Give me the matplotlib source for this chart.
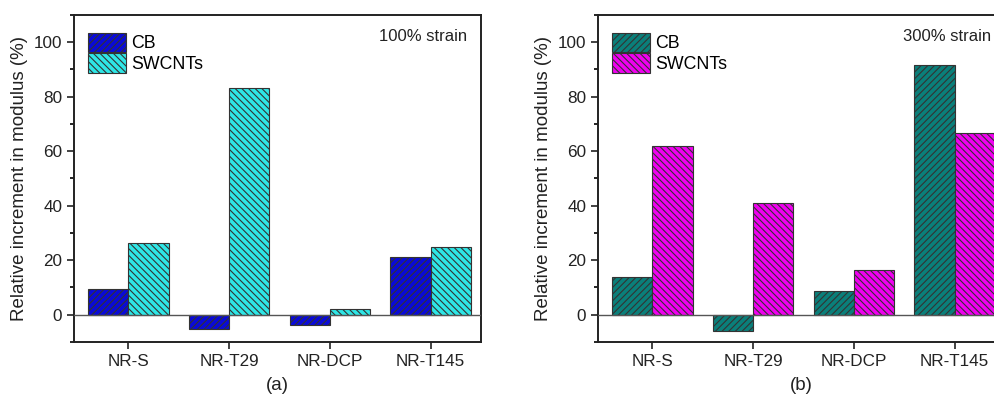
import matplotlib
matplotlib.use("Agg")
import matplotlib.pyplot as plt
import numpy as np
from matplotlib.ticker import MultipleLocator

plt.rcParams['font.family'] = ['Liberation Sans', 'DejaVu Sans']
plt.rcParams['hatch.linewidth'] = 0.8

categories = ["NR-S", "NR-T29", "NR-DCP", "NR-T145"]
series_names = ["CB", "SWCNTs"]

# 100% strain
cb_100 = [9.2, -5.5, -3.7, 21.1]
swcnt_100 = [26.4, 83.2, 2.2, 24.9]

# 300% strain
cb_300 = [13.7, -6.1, 8.6, 91.8]
swcnt_300 = [61.9, 41.1, 16.3, 66.6]

panels = [
    dict(cb=cb_100, sw=swcnt_100, strain="100% strain", tag="(a)",
         colors=("#0a0ad8", "#2ee6e6"), rect=[0.0744, 0.137, 0.409, 0.825]),
    dict(cb=cb_300, sw=swcnt_300, strain="300% strain", tag="(b)",
         colors=("#0a7f7a", "#f000f0"), rect=[0.601, 0.137, 0.409, 0.825]),
]

fig = plt.figure(figsize=(9.95, 3.96), dpi=100)

x = np.arange(1, len(categories) + 1)
w = 0.4

for p in panels:
    ax = fig.add_axes(p["rect"])
    ax.bar(x - w / 2, p["cb"], width=w, color=p["colors"][0], edgecolor="#333333",
           linewidth=0.8, hatch="/////", label=series_names[0], zorder=2)
    ax.bar(x + w / 2, p["sw"], width=w, color=p["colors"][1], edgecolor="#333333",
           linewidth=0.8, hatch="\\\\\\\\\\", label=series_names[1], zorder=2)
    ax.axhline(0, color="#555555", linewidth=1.0, zorder=3)

    ax.set_xlim(0.46, 4.5)
    ax.set_ylim(-10, 110)
    ax.set_xticks(x)
    ax.set_xticklabels(categories, fontsize=12.3)
    ax.yaxis.set_major_locator(MultipleLocator(20))
    ax.yaxis.set_minor_locator(MultipleLocator(10))
    ax.set_yticks([0, 20, 40, 60, 80, 100])
    ax.tick_params(axis="both", which="major", direction="out", length=5, width=1.2,
                   labelsize=12.3, colors="#222222")
    ax.tick_params(axis="y", which="minor", direction="out", length=3, width=1.2)
    ax.tick_params(axis="x", which="minor", bottom=False)
    for s in ax.spines.values():
        s.set_linewidth(1.4)
        s.set_color("#222222")

    ax.set_ylabel("Relative increment in modulus (%)", fontsize=13.5, color="#222222",
                  labelpad=4)
    ax.set_xlabel(p["tag"], fontsize=13.5, color="#222222", labelpad=6)

    ax.text(0.965, 0.933, p["strain"], transform=ax.transAxes, ha="right", va="center",
            fontsize=12, color="#222222")

    ax.legend(loc="upper left", bbox_to_anchor=(0.0, 0.99), frameon=False, fontsize=12.8,
              handlelength=2.1, handleheight=1.35, handletextpad=0.3, labelspacing=0.05,
              borderaxespad=0.4)

fig.savefig("out.png", dpi=100)
